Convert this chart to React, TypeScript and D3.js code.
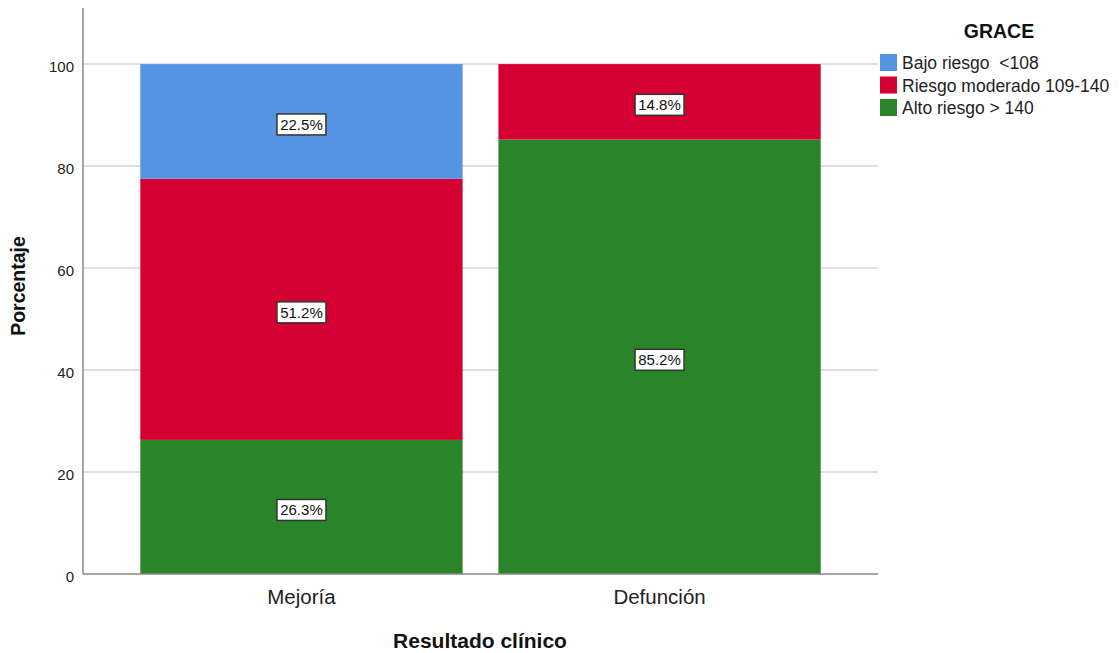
import React from "react";
import * as d3 from "d3";

const categories = ["Mejoría", "Defunción"];
const seriesNames = ["Alto riesgo > 140", "Riesgo moderado 109-140", "Bajo riesgo  <108"];
const altoRiesgo = [26.3, 85.2];
const riesgoModerado = [51.2, 14.8];
const bajoRiesgo = [22.5, 0];
const seriesColors = ["#2a852a", "#d50032", "#5594e3"];
const yTicks = [0, 20, 40, 60, 80, 100];
const legendOrder = [2, 1, 0];

const W = 1119;
const H = 653;
const FONT = "'Liberation Sans', Arial, sans-serif";

export default function App() {
  const x = d3.scaleBand<string>().domain(categories).range([83, 878]).paddingInner(0.1).paddingOuter(0.16);
  const y = d3.scaleLinear().domain([0, 111]).range([574, 8]);

  const rows = categories.map((c, i) => ({
    cat: c,
    "0": altoRiesgo[i],
    "1": riesgoModerado[i],
    "2": bajoRiesgo[i],
  }));
  const stack = d3.stack<any>().keys(["0", "1", "2"]);
  const stacked = stack(rows);

  const boxW = 49;
  const boxH = 21;

  return (
    <svg width={W} height={H} style={{ position: "absolute", left: 0, top: 0, background: "#fff" }} fontFamily={FONT}>
      <rect x={0} y={0} width={W} height={H} fill="#fff" />
      {/* gridlines */}
      {yTicks.filter((t) => t > 0).map((t) => (
        <line key={t} x1={83} x2={878} y1={y(t)} y2={y(t)} stroke="#d6d6d6" strokeWidth={1.5} />
      ))}
      {/* bars */}
      {stacked.map((layer, si) =>
        layer.map((d, ci) => {
          const h = y(d[0]) - y(d[1]);
          if (h <= 0) return null;
          return (
            <rect
              key={`${si}-${ci}`}
              x={x(categories[ci])}
              y={y(d[1])}
              width={x.bandwidth()}
              height={h}
              fill={seriesColors[si]}
            />
          );
        })
      )}
      {/* labels */}
      {stacked.map((layer, si) =>
        layer.map((d, ci) => {
          const v = d[1] - d[0];
          if (v <= 0) return null;
          const cx = (x(categories[ci]) as number) + x.bandwidth() / 2;
          const cy = y((d[0] + d[1]) / 2) + 3;
          return (
            <g key={`l-${si}-${ci}`}>
              <rect x={cx - boxW / 2} y={cy - boxH / 2} width={boxW} height={boxH} fill="#fff" stroke="#333" strokeWidth={1.5} />
              <text x={cx} y={cy + 5.5} textAnchor="middle" fontSize={15} fill="#111">
                {v.toFixed(1)}%
              </text>
            </g>
          );
        })
      )}
      {/* axes */}
      <line x1={83} x2={83} y1={8} y2={574} stroke="#888" strokeWidth={1.5} />
      <line x1={83} x2={878} y1={574} y2={574} stroke="#888" strokeWidth={1.5} />
      {yTicks.map((t) => (
        <text key={t} x={74} y={y(t) + 8} textAnchor="end" fontSize={15} fill="#222">
          {t}
        </text>
      ))}
      {categories.map((c) => (
        <text key={c} x={(x(c) as number) + x.bandwidth() / 2} y={604} textAnchor="middle" fontSize={20.5} fill="#222">
          {c}
        </text>
      ))}
      <text x={480} y={648} textAnchor="middle" fontSize={21} fontWeight="bold" fill="#111">
        Resultado clínico
      </text>
      <text transform={`translate(25,286) rotate(-90)`} textAnchor="middle" fontSize={19.5} fontWeight="bold" fill="#111">
        Porcentaje
      </text>
      {/* legend */}
      <text x={999} y={38} textAnchor="middle" fontSize={19.5} fontWeight="bold" fill="#111">
        GRACE
      </text>
      {legendOrder.map((si, i) => (
        <g key={si} transform={`translate(880, ${54 + i * 22.5})`}>
          <rect x={0} y={0} width={17} height={17} fill={seriesColors[si]} />
          <text x={22} y={15} fontSize={17.5} fill="#222" style={{ whiteSpace: "pre" }}>
            {seriesNames[si]}
          </text>
        </g>
      ))}
    </svg>
  );
}
